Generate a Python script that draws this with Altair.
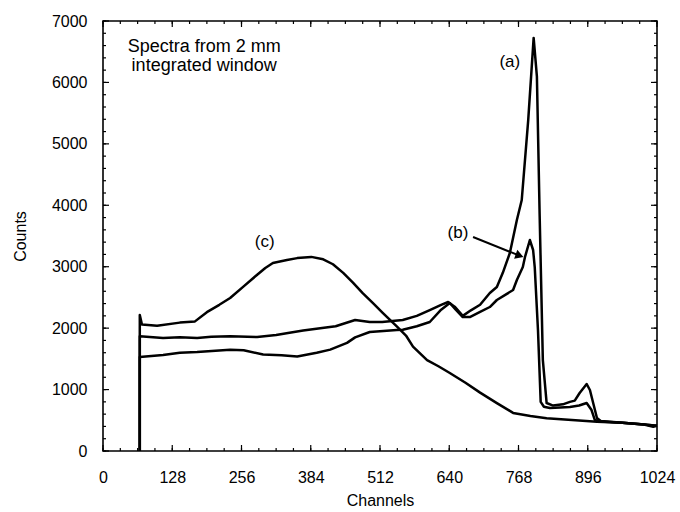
import altair as alt
import pandas as pd

# ---- data ----
a_ch = [68, 68, 111, 142, 174, 200, 235, 285, 320, 342, 370, 405, 430, 466, 493, 516, 554, 580, 604, 625,
        638, 650, 665, 680, 697, 715, 728, 739, 752, 765, 774, 786, 796, 802, 807, 813, 820, 832, 850, 863,
        872, 881, 894, 900, 913, 920, 960, 1000, 1024]
a_ct = [0, 1870, 1840, 1850, 1840, 1860, 1870, 1856, 1890, 1921, 1960, 2002, 2030, 2132, 2100, 2100, 2132, 2200, 2295, 2380,
        2426, 2350, 2200, 2290, 2380, 2572, 2670, 2900, 3223, 3760, 4086, 5389, 6724, 6100, 3875, 1481, 781, 740, 760, 800,
        820, 944, 1091, 993, 537, 490, 460, 430, 410]

b_ch = [68, 68, 111, 142, 174, 235, 260, 296, 330, 359, 395, 420, 451, 466, 493, 512, 543, 554, 580, 604,
        625, 641, 652, 665, 678, 697, 715, 728, 745, 758, 765, 776, 780, 789, 795, 798, 804, 809, 815, 826,
        845, 863, 880, 894, 903, 909, 920, 960, 1000, 1024]
b_ct = [0, 1530, 1563, 1600, 1612, 1650, 1640, 1570, 1560, 1540, 1600, 1650, 1760, 1850, 1937, 1950, 1970, 1975, 2030, 2100,
        2300, 2409, 2300, 2181, 2181, 2263, 2344, 2458, 2550, 2621, 2784, 2995, 3158, 3435, 3272, 2995, 1970, 800, 720, 700,
        710, 716, 740, 781, 667, 505, 480, 460, 430, 410]

c_ch = [68, 68, 72, 100, 142, 170, 192, 215, 235, 260, 285, 300, 314, 340, 359, 385, 407, 425, 444, 462,
        480, 500, 517, 543, 560, 573, 599, 620, 641, 670, 697, 728, 758, 790, 820, 860, 913, 960, 1000, 1017, 1024]
c_ct = [0, 2214, 2060, 2040, 2090, 2110, 2260, 2380, 2490, 2680, 2870, 2980, 3060, 3110, 3140, 3160, 3120, 3040, 2900, 2740,
        2570, 2400, 2250, 2030, 1880, 1700, 1480, 1380, 1270, 1110, 950, 780, 620, 570, 535, 510, 475, 460, 430, 395, 410]

x_ticks = [0, 128, 256, 384, 512, 640, 768, 896, 1024]
x_minor = [32 * i for i in range(33)]
y_ticks = [0, 1000, 2000, 3000, 4000, 5000, 6000, 7000]
y_minor = [200 * i for i in range(36)]

labels = ["(a)", "(b)", "(c)"]
label_ch = [752, 656, 299]
label_ct = [6333, 3549, 3402]

note_lines = ["Spectra from 2 mm", "integrated window"]
note_ch = [187, 187]
note_ct = [6577, 6268]

arrow_ch = [684, 770]
arrow_ct = [3484, 3180]

FONT = "Liberation Sans"
W, H = 554, 430

rows = []
for name, xs, ys in [("a", a_ch, a_ct), ("b", b_ch, b_ct), ("c", c_ch, c_ct)]:
    for i, (x, y) in enumerate(zip(xs, ys)):
        rows.append({"series": name, "idx": i, "ch": x, "counts": y})
df = pd.DataFrame(rows)

xscale = alt.Scale(domain=[0, 1024], nice=False, zero=False)
yscale = alt.Scale(domain=[0, 7000], nice=False)

x_axis = alt.Axis(
    values=x_ticks, format="d", title="Channels", labelFont=FONT, labelFontSize=16, labelColor="black",
    tickSize=0, domain=False, grid=False, labelPadding=18, labelFlush=False,
    titleFont=FONT, titleFontSize=16, titleFontWeight="normal", titleColor="black",
    titleX=277, titleY=49, titleBaseline="middle")
y_axis = alt.Axis(
    values=y_ticks, format="d", title="Counts", labelFont=FONT, labelFontSize=16, labelColor="black",
    tickSize=0, domain=False, grid=False, labelPadding=16, labelFlush=False,
    titleFont=FONT, titleFontSize=16, titleFontWeight="normal", titleColor="black",
    titleX=-83, titleY=215, titleBaseline="middle")

X = lambda: alt.X("ch:Q", scale=xscale, axis=x_axis)
Y = lambda: alt.Y("counts:Q", scale=yscale, axis=y_axis)

lines = alt.Chart(df).mark_line(color="black", strokeWidth=2.5, strokeJoin="round").encode(
    x=X(), y=Y(), detail="series:N", order="idx:Q")

def xticks(vals, length):
    d = pd.DataFrame({"ch": vals})
    bottom = alt.Chart(d).mark_rule(color="black", strokeWidth=1.2).encode(
        x=X(), y=alt.value(H), y2=alt.value(H - length))
    top = alt.Chart(d).mark_rule(color="black", strokeWidth=1.2).encode(
        x=X(), y=alt.value(0), y2=alt.value(length))
    return [bottom, top]

def yticks(vals, length):
    d = pd.DataFrame({"counts": vals})
    left = alt.Chart(d).mark_rule(color="black", strokeWidth=1.2).encode(
        y=Y(), x=alt.value(0), x2=alt.value(length))
    right = alt.Chart(d).mark_rule(color="black", strokeWidth=1.2).encode(
        y=Y(), x=alt.value(W), x2=alt.value(W - length))
    return [left, right]

tick_layers = xticks(x_ticks, 6) + xticks(x_minor, 3) + yticks(y_ticks, 6) + yticks(y_minor, 3)

lab_df = pd.DataFrame({"ch": label_ch, "counts": label_ct, "text": labels})
lab = alt.Chart(lab_df).mark_text(font=FONT, fontSize=17, color="black", align="center", baseline="middle").encode(
    x=X(), y=Y(), text="text:N")

note_df = pd.DataFrame({"ch": note_ch, "counts": note_ct, "text": note_lines})
note = alt.Chart(note_df).mark_text(font=FONT, fontSize=18, color="black", align="center", baseline="middle").encode(
    x=X(), y=Y(), text="text:N")

arr_df = pd.DataFrame({"ch": arrow_ch, "counts": arrow_ct})
arrow_line = alt.Chart(arr_df).mark_line(color="black", strokeWidth=2).encode(x=X(), y=Y())
head_df = pd.DataFrame({"ch": [arrow_ch[-1]], "counts": [arrow_ct[-1]]})
arrow_head = alt.Chart(head_df).mark_point(shape="triangle-right", filled=True, color="black",
                                           size=90, angle=20, opacity=1).encode(x=X(), y=Y())

chart = alt.layer(lines, *tick_layers, lab, note, arrow_line, arrow_head).properties(
    width=W, height=H,
    padding={"left": 103, "top": 21, "right": 23, "bottom": 61},
    autosize=alt.AutoSizeParams(type="none"),
    background="white",
).configure_view(stroke="black", strokeWidth=1.6)

chart.save("out.html", embed_options={"renderer": "svg", "actions": False})
